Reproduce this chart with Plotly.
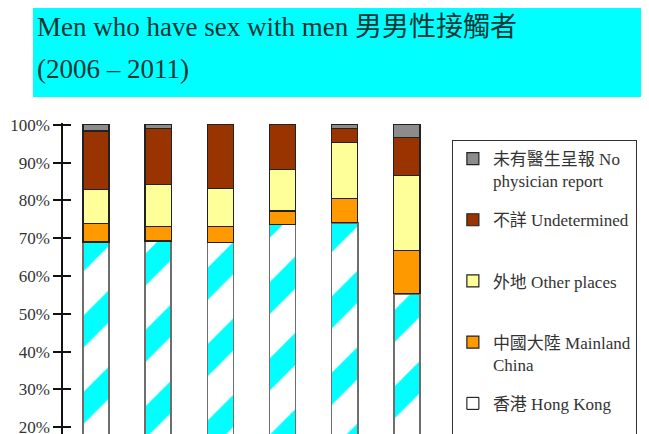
import plotly.graph_objects as go

years = ["2006", "2007", "2008", "2009", "2010", "2011"]
hong_kong = [69.0, 69.3, 68.9, 73.6, 74.1, 55.3]
mainland = [5.0, 3.9, 4.2, 3.6, 6.4, 11.5]
other_places = [9.0, 11.0, 10.1, 11.0, 14.8, 19.9]
undetermined = [15.4, 14.9, 16.8, 11.8, 3.8, 9.9]
no_report = [1.6, 0.9, 0.0, 0.0, 0.9, 3.4]

tick_values = [20, 30, 40, 50, 60, 70, 80, 90, 100]
tick_labels = ["20%", "30%", "40%", "50%", "60%", "70%", "80%", "90%", "100%"]

labels = {
    "hk": "香港 Hong Kong<br>&nbsp;",
    "ml": "中國大陸 Mainland<br>China",
    "op": "外地 Other places<br>&nbsp;",
    "ud": "不詳 Undetermined<br>&nbsp;",
    "np": "未有醫生呈報 No<br>physician report",
}

FONT = "Liberation Serif, Noto Sans CJK TC, serif"
BW = 0.42
EDGE = dict(color="#222222", width=1.2)

fig = go.Figure()

# Hong Kong (hatched) - data trace
fig.add_trace(go.Bar(
    x=years, y=hong_kong, width=BW, name=labels["hk"], legendgroup="hk", showlegend=False,
    marker=dict(color="white", line=dict(color="#6e6e6e", width=1.5),
                pattern=dict(shape="/", fgcolor="#00FFFF", bgcolor="white", fgopacity=1,
                             size=54, solidity=0.42)),
))
# legend-only entry for Hong Kong (plain white box)
fig.add_trace(go.Bar(
    x=years, y=[None] * len(years), width=BW, name=labels["hk"], legendgroup="hk", legendrank=5,
    marker=dict(color="white", line=dict(color="black", width=1)),
))
fig.add_trace(go.Bar(
    x=years, y=mainland, width=BW, name=labels["ml"], legendgroup="ml", legendrank=4,
    marker=dict(color="#FF9900", line=EDGE),
))
fig.add_trace(go.Bar(
    x=years, y=other_places, width=BW, name=labels["op"], legendgroup="op", legendrank=3,
    marker=dict(color="#FFFF99", line=EDGE),
))
fig.add_trace(go.Bar(
    x=years, y=undetermined, width=BW, name=labels["ud"], legendgroup="ud", legendrank=2,
    marker=dict(color="#993300", line=EDGE),
))
fig.add_trace(go.Bar(
    x=years, y=no_report, width=BW, name=labels["np"], legendgroup="np", legendrank=1,
    marker=dict(color="#8C8C8C", line=EDGE),
))
# helper trace so the overlay axis (inner half of the cross ticks) is drawn
fig.add_trace(go.Scatter(x=[years[0]], y=[None], yaxis="y2", showlegend=False, hoverinfo="skip"))

yr = [16.1, 100.5]

fig.update_layout(
    width=649, height=434,
    margin=dict(l=55, r=219, t=115, b=0, autoexpand=False),
    paper_bgcolor="white", plot_bgcolor="white",
    barmode="stack",
    font=dict(family=FONT, color="#333333", size=17),
    xaxis=dict(range=[-0.53, 5.5], showticklabels=False, ticks="", showgrid=False,
               showline=False, zeroline=False, type="category"),
    yaxis=dict(range=yr, tickvals=tick_values, ticktext=tick_labels,
               ticks="outside", ticklen=8, tickwidth=1.5, tickcolor="#111111",
               showline=True, linecolor="#111111", linewidth=1.5, showgrid=False,
               zeroline=False, ticklabelstandoff=0,
               tickfont=dict(family=FONT, size=17, color="#333333")),
    yaxis2=dict(range=yr, overlaying="y", side="left", anchor="x",
                tickvals=tick_values,
                ticks="inside", ticklen=8, tickwidth=1.5, tickcolor="#111111",
                showticklabels=False, showgrid=False, showline=False, zeroline=False),
    legend=dict(x=1.037, y=0.9467, xanchor="left", yanchor="top",
                traceorder="grouped", tracegroupgap=14, valign="top",
                bordercolor="#333333", borderwidth=1, bgcolor="white",
                font=dict(family=FONT, size=17, color="#333333"),
                maxheight=1000, itemclick=False),
    shapes=[dict(type="rect", xref="paper", yref="paper", x0=-0.08, x1=1.7,
                 y0=1.0815, y1=1.5, fillcolor="#00FFFF", line=dict(width=0), layer="below")],
    annotations=[
        dict(text="Men who have sex with men 男男性接觸者", xref="paper", yref="paper",
             x=-0.075, y=1.2994, xanchor="left", yanchor="middle", showarrow=False,
             font=dict(family=FONT, size=27, color="#0f3535")),
        dict(text="(2006 – 2011)", xref="paper", yref="paper",
             x=-0.075, y=1.1708, xanchor="left", yanchor="middle", showarrow=False,
             font=dict(family=FONT, size=27, color="#0f3535")),
    ],
)

fig.write_html("out.html")
